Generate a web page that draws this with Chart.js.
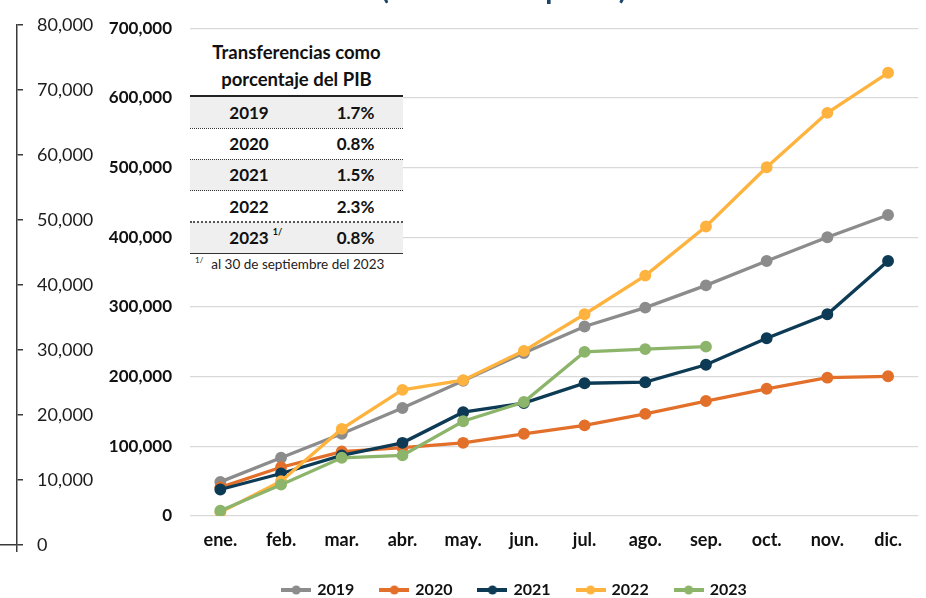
<!DOCTYPE html>
<html>
<head>
<meta charset="utf-8">
<script src="https://cdn.jsdelivr.net/npm/chart.js@4.4.1/dist/chart.umd.min.js"></script>
<style>
html,body{margin:0;padding:0;background:#fff;overflow:hidden;width:926px;height:598px;}
#wrap{position:relative;width:926px;height:598px;font-family:Lato,sans-serif;overflow:hidden;}
#main{position:absolute;left:0;top:0;}
#outer{position:absolute;left:0;top:0;}
#title{position:absolute;left:381px;top:-26px;font:bold 29px/28px Lato,sans-serif;color:#1a4468;white-space:nowrap;}
#tbl{position:absolute;left:190px;top:30px;width:213px;height:250px;background:#fff;color:#111;}
#tbl .hdr{position:absolute;left:0;top:8.5px;width:213px;text-align:center;font:bold 18.5px/27px Lato,sans-serif;}
#tbl .row{position:absolute;left:0;width:213px;height:31.2px;font:bold 17px/31px Lato,sans-serif;}
#tbl .row.sh{background:#efefef;}
#tbl .c1{position:absolute;left:0;width:118px;text-align:center;top:0;}
#tbl .c2{position:absolute;left:118px;width:95px;text-align:center;top:0;}
#tbl .sup{position:absolute;margin-left:4px;top:5px;font:bold 9px/10px Lato,sans-serif;}
#tbl .ln{position:absolute;left:0;width:213px;height:0;}
#tbl .note{position:absolute;left:5px;top:226px;font:13.5px/16px Lato,sans-serif;color:#222;white-space:nowrap;}
#tbl .note span{position:relative;top:-6px;font-size:8px;margin-right:8px;}
</style>
</head>
<body>
<div id="wrap">
  <canvas id="main" width="926" height="598"></canvas>
  <canvas id="outer" width="100" height="598"></canvas>
  <div id="title">(Millones de pesos)</div>
  <div id="tbl"></div>
</div>
<script>
// ---- Data ----
const meses = ['ene.','feb.','mar.','abr.','may.','jun.','jul.','ago.','sep.','oct.','nov.','dic.'];
const serie2019 = [49000, 83500, 118000, 155000, 194000, 234000, 272000, 299000, 331000, 366000, 400000, 432000];
const serie2020 = [41000, 70000, 92500, 98000, 105000, 118000, 130000, 146500, 165000, 182500, 198500, 200500];
const serie2021 = [38000, 61000, 87000, 105000, 149000, 162000, 190500, 192000, 217000, 255000, 289500, 366000];
const serie2022 = [5500, 50000, 125000, 181000, 195000, 237000, 289500, 345000, 415500, 500500, 578500, 636000];
const serie2023 = [7500, 45000, 83500, 87000, 136000, 163500, 235500, 239500, 243000];
const ticksInterno = [0, 100000, 200000, 300000, 400000, 500000, 600000, 700000];
const ticksExterno = [0, 10000, 20000, 30000, 40000, 50000, 60000, 70000, 80000];
const tablaAnios = ['2019', '2020', '2021', '2022', '2023'];
const tablaPIB = ['1.7%', '0.8%', '1.5%', '2.3%', '0.8%'];
const tablaNota = [false, false, false, false, true];

// ---- Table overlay ----
(function(){
  const tbl = document.getElementById('tbl');
  let h = '<div class="hdr">Transferencias como<br>porcentaje del PIB</div>';
  h += '<div class="ln" style="top:65px;border-top:2px solid #222;"></div>';
  const rowTop = 67, rowH = 31.2;
  tablaAnios.forEach((a, i) => {
    const t = rowTop + i * rowH;
    h += '<div class="row' + (i % 2 === 0 ? ' sh' : '') + '" style="top:' + t + 'px">' +
         '<div class="c1">' + a + (tablaNota[i] ? '<span class="sup">1/</span>' : '') + '</div>' +
         '<div class="c2">' + tablaPIB[i] + '</div></div>';
  });
  for (let k = 1; k < tablaAnios.length; k++) {
    const t = rowTop + k * rowH - 0.5;
    const st = (k === tablaAnios.length - 1) ? '2px dotted #555' : '1px dotted #333';
    h += '<div class="ln" style="top:' + t + 'px;border-top:' + st + ';"></div>';
  }
  h += '<div class="ln" style="top:' + (rowTop + tablaAnios.length * rowH) + 'px;border-top:1.5px solid #333;"></div>';
  h += '<div class="note"><span>1/</span>al 30 de septiembre del 2023</div>';
  tbl.innerHTML = h;
})();

// ---- Legend marker images ----
function marker(color) {
  const c = document.createElement('canvas');
  c.width = 30; c.height = 10;
  const x = c.getContext('2d');
  x.strokeStyle = color; x.lineWidth = 4;
  x.beginPath(); x.moveTo(0, 5); x.lineTo(30, 5); x.stroke();
  x.fillStyle = color; x.beginPath(); x.arc(15, 5, 4.5, 0, Math.PI * 2); x.fill();
  return c;
}

const colores = ['#8c8c8c', '#e2702b', '#0d3a54', '#ffb33f', '#8cb56b'];
const series = [serie2019, serie2020, serie2021, serie2022, serie2023];
const orden = [5, 4, 3, 2, 1];

const datasets = tablaAnios.map((a, i) => ({
  label: a,
  data: series[i],
  borderColor: colores[i],
  backgroundColor: colores[i],
  pointBackgroundColor: colores[i],
  pointBorderColor: colores[i],
  borderWidth: 3.3,
  pointRadius: 4.3,
  pointHoverRadius: 4.3,
  tension: 0,
  order: orden[i]
}));

const fmt = v => Number(v).toLocaleString('en-US');

new Chart(document.getElementById('main'), {
  type: 'line',
  data: { labels: meses, datasets },
  options: {
    responsive: false,
    animation: false,
    layout: { padding: { left: 107, right: 3, top: 26, bottom: -10 } },
    plugins: {
      tooltip: { enabled: false },
      legend: {
        position: 'bottom',
        labels: {
          usePointStyle: true,
          pointStyleWidth: 26,
          padding: 27,
          color: '#111',
          font: { family: 'Lato', size: 16, weight: 'bold' },
          generateLabels: chart => chart.data.datasets.map((d, i) => ({
            text: d.label,
            fillStyle: d.borderColor,
            strokeStyle: d.borderColor,
            lineWidth: 0,
            hidden: !chart.isDatasetVisible(i),
            datasetIndex: i,
            pointStyle: marker(d.borderColor),
            fontColor: '#111'
          }))
        }
      }
    },
    scales: {
      x: {
        offset: true,
        grid: { display: false, offset: true },
        border: { display: false },
        ticks: { color: '#111', font: { family: 'Lato', size: 18, weight: 'bold' }, padding: 5, autoSkip: false, maxRotation: 0 },
        afterFit: s => { s.height = 39; }
      },
      y: {
        min: 0, max: 700000,
        afterBuildTicks: s => { s.ticks = ticksInterno.map(v => ({ value: v })); },
        grid: { color: '#d9d9d9', lineWidth: 1.2, drawTicks: false },
        border: { display: false },
        ticks: { padding: 18, color: '#111', font: { family: 'Lato', size: 17, weight: 'bold' }, callback: fmt },
        afterFit: s => { s.width = 83; }
      }
    }
  }
});

new Chart(document.getElementById('outer'), {
  type: 'line',
  data: { labels: ['', ''], datasets: [{ data: [] }] },
  options: {
    responsive: false,
    animation: false,
    layout: { padding: { top: 14, left: 0, right: 0, bottom: 0 } },
    plugins: { legend: { display: false }, tooltip: { enabled: false } },
    scales: {
      x: {
        offset: false,
        grid: { drawOnChartArea: false, tickLength: 7, lineWidth: 1.5, color: c => c.index === 1 ? '#3a3a3a' : 'rgba(0,0,0,0)' },
        border: { display: true, color: '#3a3a3a', width: 1.5 },
        ticks: { display: false },
        afterFit: s => { s.height = 53; }
      },
      y: {
        position: 'right',
        min: 0, max: 80000,
        afterBuildTicks: s => { s.ticks = ticksExterno.map(v => ({ value: v })); },
        grid: { drawOnChartArea: false, tickLength: 6, lineWidth: 1.5, color: '#3a3a3a' },
        border: { display: true, color: '#3a3a3a', width: 1.5 },
        ticks: { padding: 14, color: '#1c1c1c', font: { family: 'Lato', size: 18 }, callback: fmt },
        afterFit: s => { s.width = 83; }
      }
    }
  }
});
</script>
</body>
</html>
